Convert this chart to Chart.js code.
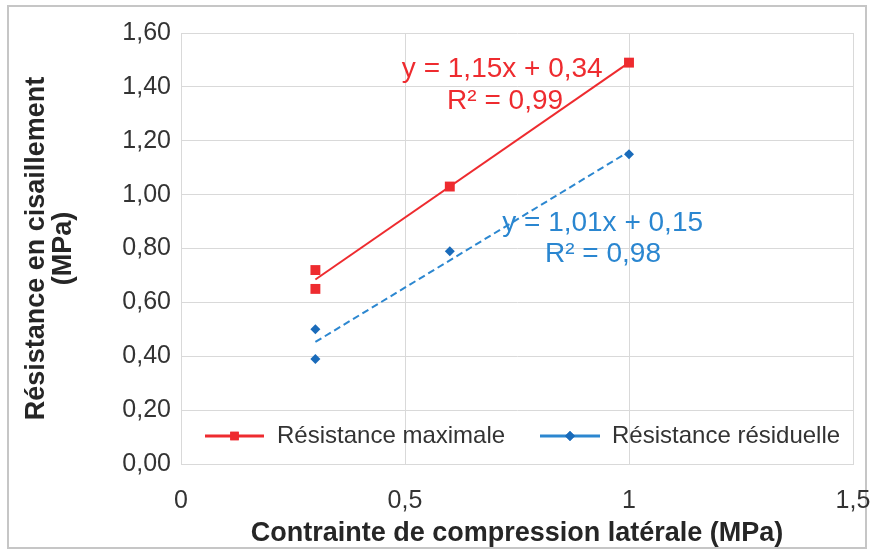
<!DOCTYPE html>
<html>
<head>
<meta charset="utf-8">
<script src="https://cdn.jsdelivr.net/npm/chart.js@4/dist/chart.umd.min.js"></script>
<style>
  html, body { margin: 0; padding: 0; background: #fff; }
  #wrap { width: 874px; height: 555px; }
</style>
</head>
<body>
<div id="wrap"><canvas id="c" width="874" height="555"></canvas></div>
<script>
// Lateral compression stress (MPa) for each test
const pressures = [0.3, 0.3, 0.6, 1.0];
// Shear strength (MPa)
const maxStrength = [0.72, 0.65, 1.03, 1.49];
const residualStrength = [0.50, 0.39, 0.79, 1.15];

// Linear trend lines: [maximale, résiduelle]
const fitSlopes = [1.15, 1.01];
const fitIntercepts = [0.34, 0.15];
const fitR2 = [0.99, 0.98];
const fitRange = [0.3, 1.0];

const seriesNames = ['Résistance maximale', 'Résistance résiduelle'];
const xTickValues = [0, 0.5, 1, 1.5];
const yTickValues = [0, 0.2, 0.4, 0.6, 0.8, 1.0, 1.2, 1.4, 1.6];

const RED = '#EE2B2F';
const BLUE_LINE = '#2C87D0';
const BLUE_MARK = '#1A6BBA';
const BLUE_TEXT = '#2A86D0';
const FONT = '"Liberation Sans", Arial, sans-serif';

const fr = (v, d) => v.toFixed(d).replace('.', ',');
const fx = v => (Number.isInteger(v) ? String(v) : String(v).replace('.', ','));

const points = ys => pressures.map((x, i) => ({ x, y: ys[i] }));
const fitLine = k => fitRange.map(x => ({ x, y: fitSlopes[k] * x + fitIntercepts[k] }));

// Equation label placement (data units, left edge / middle of each line)
const eqLabels = [
  { k: 0, color: RED, lines: [{ x: 0.493, y: 1.465 }, { x: 0.594, y: 1.345 }] },
  { k: 1, color: BLUE_TEXT, lines: [{ x: 0.717, y: 0.895 }, { x: 0.8125, y: 0.78 }] }
];

const frame = {
  id: 'frame',
  beforeDraw(chart) {
    const c = chart.ctx;
    c.save();
    c.fillStyle = '#fff';
    c.fillRect(0, 0, chart.width, chart.height);
    c.strokeStyle = '#C6C6C6';
    c.lineWidth = 2;
    c.strokeRect(8, 6, 858, 542);
    c.restore();
  }
};

const annotations = {
  id: 'annotations',
  afterDatasetsDraw(chart) {
    const c = chart.ctx;
    const xs = chart.scales.x, ys = chart.scales.y;
    c.save();
    c.font = '28px ' + FONT;
    c.textBaseline = 'middle';
    c.textAlign = 'left';
    eqLabels.forEach(l => {
      const txt = [
        `y = ${fr(fitSlopes[l.k], 2)}x + ${fr(fitIntercepts[l.k], 2)}`,
        `R² = ${fr(fitR2[l.k], 2)}`
      ];
      c.fillStyle = l.color;
      l.lines.forEach((p, i) => {
        c.fillText(txt[i], xs.getPixelForValue(p.x), ys.getPixelForValue(p.y));
      });
    });

    // Legend inside the plot area
    const ly = 436;
    const items = [
      { x0: 205, x1: 264, tx: 277, color: RED, mark: RED, style: 'rect', r: 6 },
      { x0: 540, x1: 600, tx: 612, color: BLUE_LINE, mark: BLUE_MARK, style: 'rectRot', r: 5 }
    ];
    c.font = '24px ' + FONT;
    items.forEach((it, i) => {
      c.strokeStyle = it.color;
      c.lineWidth = 3;
      c.beginPath();
      c.moveTo(it.x0, ly);
      c.lineTo(it.x1, ly);
      c.stroke();
      c.fillStyle = it.mark;
      Chart.helpers.drawPoint(c, { pointStyle: it.style, radius: it.r, borderWidth: 0, rotation: 0 },
        (it.x0 + it.x1) / 2, ly);
      c.fill();
      c.fillStyle = '#333';
      c.fillText(seriesNames[i], it.tx, ly);
    });
    c.restore();
  }
};

new Chart(document.getElementById('c'), {
  type: 'scatter',
  data: {
    datasets: [
      {
        label: seriesNames[0] + ' (tendance)',
        data: fitLine(0), showLine: true, borderColor: RED, borderWidth: 2,
        pointRadius: 0, fill: false, order: 3
      },
      {
        label: seriesNames[1] + ' (tendance)',
        data: fitLine(1), showLine: true, borderColor: BLUE_LINE, borderWidth: 2,
        borderDash: [7, 4], pointRadius: 0, fill: false, order: 4
      },
      {
        label: seriesNames[0], data: points(maxStrength),
        pointStyle: 'rect', pointRadius: 7, pointBackgroundColor: RED,
        pointBorderWidth: 0, borderColor: RED, order: 1
      },
      {
        label: seriesNames[1], data: points(residualStrength),
        pointStyle: 'rectRot', pointRadius: 5, pointBackgroundColor: BLUE_MARK,
        pointBorderWidth: 0, borderColor: BLUE_MARK, order: 2
      }
    ]
  },
  options: {
    responsive: false,
    animation: false,
    layout: { padding: { top: 33, right: 21, left: 0, bottom: 0 } },
    plugins: { legend: { display: false }, tooltip: { enabled: false } },
    scales: {
      x: {
        type: 'linear', min: 0, max: 1.5,
        afterBuildTicks: s => { s.ticks = xTickValues.map(v => ({ value: v })); },
        afterFit: s => { s.height = 91; s.paddingLeft = 0; s.paddingRight = 0; },
        grid: { color: '#D9D9D9', lineWidth: 1, drawTicks: false },
        border: { color: '#D9D9D9' },
        ticks: { padding: 22, color: '#333', font: { family: FONT, size: 25 }, callback: v => fx(v), maxRotation: 0 },
        title: {
          display: true, text: 'Contrainte de compression latérale (MPa)',
          color: '#262626', font: { family: FONT, size: 27, weight: 'bold', lineHeight: 1.0 },
          padding: { top: 0, bottom: 8 }
        }
      },
      y: {
        type: 'linear', min: 0, max: 1.6,
        afterBuildTicks: s => { s.ticks = yTickValues.map(v => ({ value: v })); },
        afterFit: s => { s.width = 181; s.paddingTop = 0; s.paddingBottom = 0; },
        grid: { color: '#D9D9D9', lineWidth: 1, drawTicks: false },
        border: { color: '#D9D9D9' },
        ticks: { padding: 10, color: '#333', font: { family: FONT, size: 25 }, callback: v => fr(v, 2) },
        title: {
          display: true, text: ['Résistance en cisaillement', '(MPa)'],
          color: '#262626', font: { family: FONT, size: 27, weight: 'bold', lineHeight: 1.0 },
          padding: { top: 23, bottom: 0 }
        }
      }
    }
  },
  plugins: [frame, annotations]
});
</script>
</body>
</html>
